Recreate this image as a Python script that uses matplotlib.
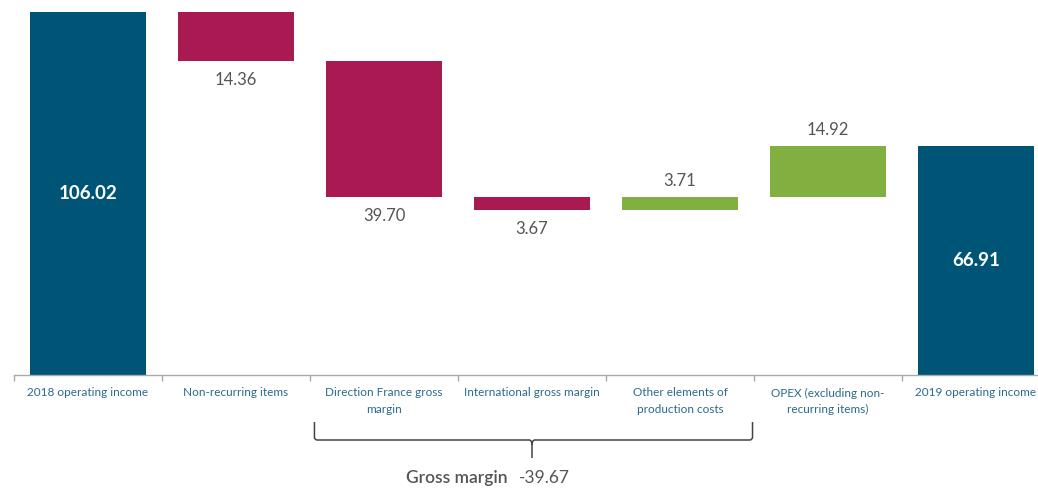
import matplotlib.pyplot as plt
import matplotlib.transforms as mtransforms
from matplotlib.path import Path
from matplotlib.patches import PathPatch

plt.rcParams['font.family'] = ['Lato', 'DejaVu Sans']

# Operating income bridge 2018 -> 2019
categories = ['2018 operating income', 'Non-recurring items',
              'Direction France gross\nmargin', 'International gross margin',
              'Other elements of\nproduction costs', 'OPEX (excluding non-\nrecurring items)',
              '2019 operating income']
start_value = 106.02
deltas = [-14.36, -39.70, -3.67, 3.71, 14.92]
end_value = 66.91
gross_margin = -39.67

blue = '#005577'
red = '#a91a52'
green = '#82b040'
label_grey = '#555555'
cat_color = '#2a6a8c'

fig = plt.figure(figsize=(10.38, 4.88), dpi=100)
ax = fig.add_axes([14 / 1038, 113 / 488, 1036 / 1038, 363 / 488])

# totals
ax.bar(0, start_value, width=0.78, color=blue)
ax.bar(6, end_value, width=0.78, color=blue)
ax.text(0, start_value / 2, f'{start_value:.2f}', ha='center', va='center',
        color='white', fontsize=13.5, fontweight='bold')
ax.text(6, end_value / 2, f'{end_value:.2f}', ha='center', va='center',
        color='white', fontsize=13.5, fontweight='bold')

# floating steps
level = start_value
for i, d in enumerate(deltas, start=1):
    new_level = level + d
    lo, hi = min(level, new_level), max(level, new_level)
    ax.bar(i, hi - lo, bottom=lo, width=0.78, color=green if d > 0 else red)
    if d < 0:
        ax.annotate(f'{abs(d):.2f}', (i, lo), xytext=(0, -8), textcoords='offset points',
                    ha='center', va='top', color=label_grey, fontsize=12)
    else:
        ax.annotate(f'{abs(d):.2f}', (i, hi), xytext=(0, 6), textcoords='offset points',
                    ha='center', va='bottom', color=label_grey, fontsize=12)
    level = new_level

ax.set_xlim(-0.5, 6.5)
ax.set_ylim(0, start_value)
for s in ['top', 'right', 'left']:
    ax.spines[s].set_visible(False)
ax.spines['bottom'].set_color('#aaaaaa')
ax.spines['bottom'].set_linewidth(1)
ax.set_yticks([])
ax.set_xticks(range(len(categories)))
ax.set_xticklabels(categories, fontsize=8.5, color=cat_color, linespacing=1.6)
ax.tick_params(axis='x', which='major', length=0, pad=9)
ax.set_xticks([x - 0.5 for x in range(len(categories) + 1)], minor=True)
ax.tick_params(axis='x', which='minor', length=4, color='#aaaaaa', width=1)

# bracket under the gross margin items
trans = mtransforms.blended_transform_factory(ax.transData, fig.transFigure)
x0, x1, xm = 1.53, 4.49, 3.0
y_top, y_mid, y_tip = 66 / 488, 48 / 488, 30 / 488
r = 0.02
verts = [(x0, y_top), (x0, y_mid + 0.006), (x0, y_mid), (x0 + r, y_mid),
         (xm - r, y_mid), (xm, y_mid), (xm, y_mid - 0.01), (xm, y_tip)]
codes = [Path.MOVETO, Path.LINETO, Path.CURVE3, Path.CURVE3,
         Path.LINETO, Path.CURVE3, Path.CURVE3, Path.LINETO]
verts2 = [(x1, y_top), (x1, y_mid + 0.006), (x1, y_mid), (x1 - r, y_mid),
          (xm + r, y_mid), (xm, y_mid), (xm, y_mid - 0.01)]
codes2 = [Path.MOVETO, Path.LINETO, Path.CURVE3, Path.CURVE3,
          Path.LINETO, Path.CURVE3, Path.CURVE3]
for v, c in [(verts, codes), (verts2, codes2)]:
    fig.add_artist(PathPatch(Path(v, c), transform=trans, fill=False,
                             edgecolor='#444444', linewidth=1.1, clip_on=False))

fig.text(508 / 1038, 10 / 488, 'Gross margin', ha='right', va='center',
         color=label_grey, fontsize=12.5, fontweight='semibold')
fig.text(519 / 1038, 10 / 488, f'{gross_margin:.2f}', ha='left', va='center',
         color=label_grey, fontsize=12.5)

fig.savefig('out.png', dpi=100)
